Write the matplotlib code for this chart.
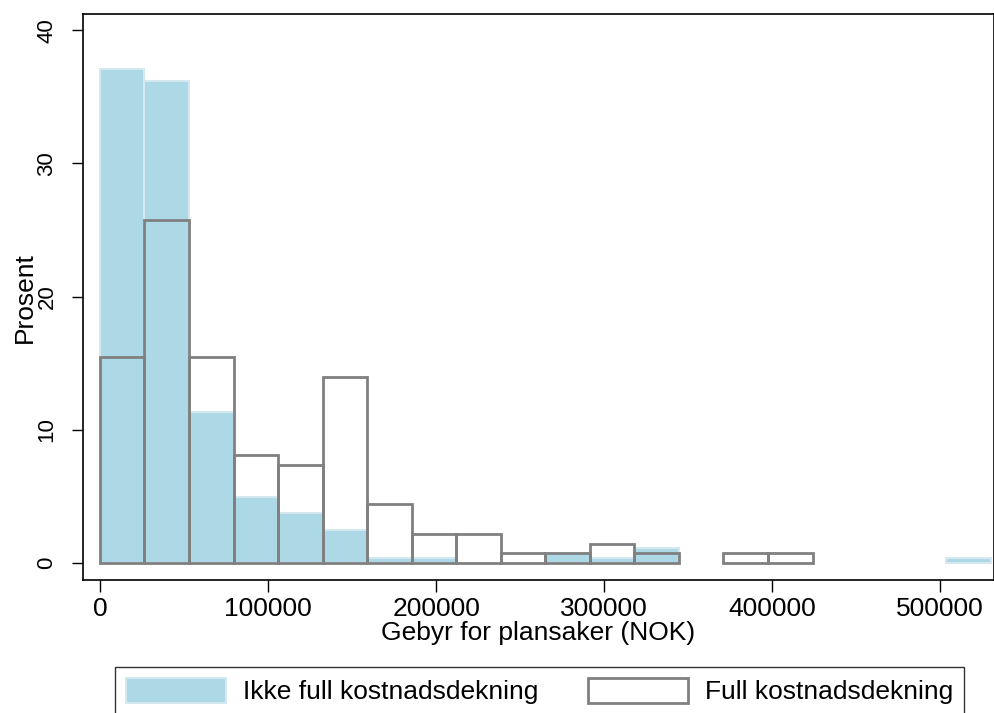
import numpy as np
import matplotlib.pyplot as plt
from matplotlib.patches import Patch

plt.rcParams['font.family'] = ['Liberation Sans', 'DejaVu Sans']

# histogram bins (NOK), 20 bins of equal width
bin_width = 26500
bin_left = np.arange(20) * bin_width

# percent per bin
ikke_full = [37.1, 36.2, 11.35, 4.97, 3.75, 2.45, 0.37, 0.37, 0.0, 0.0,
             0.74, 0.37, 1.1, 0.0, 0.0, 0.0, 0.0, 0.0, 0.0, 0.37]
full = [15.44, 25.74, 15.44, 8.09, 7.35, 13.97, 4.41, 2.21, 2.21, 0.74,
        0.74, 1.47, 0.74, 0.0, 0.74, 0.74, 0.0, 0.0, 0.0, 0.0]

labels = ['Ikke full kostnadsdekning', 'Full kostnadsdekning']
xticks = [0, 100000, 200000, 300000, 400000, 500000]
yticks = [0, 10, 20, 30, 40]

blue = '#add8e6'
blue_edge = '#d3e8ef'
grey = '#808080'

fig = plt.figure(figsize=(9.95, 7.13), dpi=100)
ax = fig.add_axes([0.0834, 0.1865, 0.9156, 0.7935])

b = np.array(ikke_full)
f = np.array(full)
mb = b > 0
mf = f > 0
ax.bar(bin_left[mb], b[mb], width=bin_width, align='edge',
       color=blue, edgecolor=blue_edge, linewidth=1.5, zorder=2)
ax.bar(bin_left[mf], f[mf], width=bin_width, align='edge',
       fill=False, edgecolor=grey, linewidth=2, zorder=3)

ax.set_xlim(-10100, 532000)
ax.set_ylim(-1.27, 41.2)
ax.set_xticks(xticks)
ax.set_xticklabels([str(t) for t in xticks])
ax.set_yticks(yticks)
ax.set_yticklabels([str(t) for t in yticks], rotation=90, va='center')
ax.tick_params(axis='x', labelsize=19, length=8.6, width=1, pad=3.6)
ax.tick_params(axis='y', labelsize=16, length=8, width=1, pad=10.3)
for s in ax.spines.values():
    s.set_linewidth(1.2)
ax.set_xlabel('Gebyr for plansaker (NOK)', fontsize=19, labelpad=0)
ax.set_ylabel('Prosent', fontsize=19, labelpad=0)

handles = [Patch(facecolor=blue, edgecolor=blue_edge, linewidth=1.5),
           Patch(facecolor='white', edgecolor=grey, linewidth=2)]
leg = fig.legend(handles, labels, loc='upper left',
                 bbox_to_anchor=(115 / 995, 1 - 667 / 713), ncol=2,
                 fontsize=19, frameon=True, fancybox=False,
                 edgecolor='black', handlelength=3.79, handleheight=1.06,
                 handletextpad=0.65, columnspacing=1.87, borderpad=0.42,
                 borderaxespad=0)
leg.get_frame().set_linewidth(1.0)

fig.savefig('out.png', dpi=100)
